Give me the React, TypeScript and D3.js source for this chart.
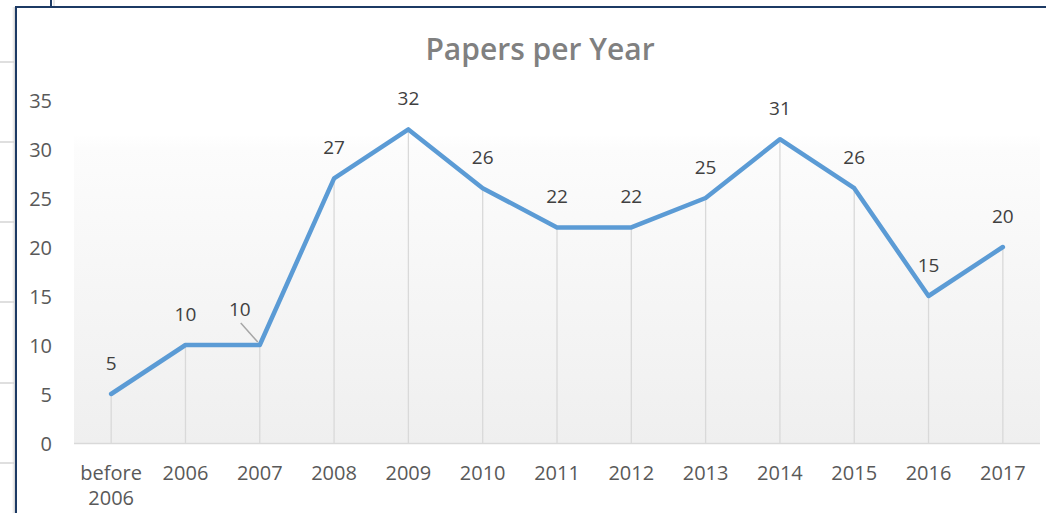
import React from "react";
import * as d3 from "d3";

const categories: string[] = ["before 2006", "2006", "2007", "2008", "2009", "2010", "2011", "2012", "2013", "2014", "2015", "2016", "2017"];
const papers: number[] = [5, 10, 10, 27, 32, 26, 22, 22, 25, 31, 26, 15, 20];
const yTicks: number[] = [0, 5, 10, 15, 20, 25, 30, 35];
const title = "Papers per Year";

const W = 1046;
const H = 513;
const plot = { left: 74, right: 1040, top: 100, bottom: 443 };
const FONT = "'Open Sans', sans-serif";

export default function App() {
  const x = d3.scaleBand<string>().domain(categories).range([plot.left, plot.right]).padding(0);
  const y = d3.scaleLinear().domain([0, 35]).range([plot.bottom, plot.top]);
  const cx = (c: string) => (x(c) as number) + x.bandwidth() / 2;

  const line = d3
    .line<number>()
    .x((_, i) => cx(categories[i]))
    .y((d) => y(d));

  const sheetRows = [62, 142, 222, 302, 383, 463];

  return (
    <svg
      width={W}
      height={H}
      style={{ position: "absolute", left: 0, top: 0, background: "#fff" }}
      fontFamily={FONT}
    >
      <defs>
        <linearGradient id="plotBg" x1="0" y1="0" x2="0" y2="1">
          <stop offset="0" stopColor="#ffffff" />
          <stop offset="0.1" stopColor="#ffffff" />
          <stop offset="0.14" stopColor="#fcfcfc" />
          <stop offset="1" stopColor="#efefef" />
        </linearGradient>
        <linearGradient id="shadow" x1="0" y1="0" x2="1" y2="0">
          <stop offset="0" stopColor="#ffffff" stopOpacity="0" />
          <stop offset="1" stopColor="#b8b8b8" stopOpacity="0.7" />
        </linearGradient>
      </defs>

      {/* spreadsheet background at the left */}
      {sheetRows.map((r) => (
        <line key={r} x1={0} x2={14} y1={r} y2={r} stroke="#d4d4d4" strokeWidth={1.5} />
      ))}
      <line x1={51} x2={51} y1={0} y2={7} stroke="#1c3a64" strokeWidth={2} />
      <line x1={54} x2={54} y1={0} y2={7} stroke="#d0d0d0" strokeWidth={1} />
      <rect x={11} y={7} width={4} height={H - 7} fill="url(#shadow)" />

      {/* chart frame */}
      <rect x={16} y={7} width={W} height={H} fill="#ffffff" stroke="#1c3a64" strokeWidth={2} />

      {/* plot area */}
      <rect
        x={plot.left}
        y={plot.top}
        width={plot.right - plot.left}
        height={plot.bottom - plot.top}
        fill="url(#plotBg)"
      />

      {/* title */}
      <text x={540} y={48} textAnchor="middle" dominantBaseline="central" fontSize={30} fontWeight={600} fill="#808080">
        {title}
      </text>

      {/* drop lines */}
      {papers.map((v, i) => (
        <line
          key={"drop" + i}
          x1={cx(categories[i])}
          x2={cx(categories[i])}
          y1={y(v)}
          y2={plot.bottom}
          stroke="#d9d9d9"
          strokeWidth={1.3}
        />
      ))}

      {/* baseline */}
      <line x1={plot.left} x2={plot.right} y1={plot.bottom + 0.5} y2={plot.bottom + 0.5} stroke="#d9d9d9" strokeWidth={1.5} />

      {/* y tick labels */}
      {yTicks.map((t) => (
        <text key={"yt" + t} x={52} y={y(t)} textAnchor="end" dominantBaseline="central" fontSize={20} fill="#595959">
          {t}
        </text>
      ))}

      {/* x labels */}
      {categories.map((c) => {
        const parts = c.split(" ");
        return (
          <text key={"xl" + c} x={cx(c)} y={472} textAnchor="middle" dominantBaseline="central" fontSize={20} fill="#595959">
            {parts.map((p, j) => (
              <tspan key={j} x={cx(c)} dy={j === 0 ? 0 : 25}>
                {p}
              </tspan>
            ))}
          </text>
        );
      })}

      {/* series line */}
      <path
        d={line(papers) || ""}
        fill="none"
        stroke="#5b9bd5"
        strokeWidth={4.5}
        strokeLinejoin="round"
        strokeLinecap="round"
      />

      {/* leader line for the moved 2007 label */}
      <line
        x1={cx(categories[2]) - 19}
        y1={y(papers[2]) - 22}
        x2={cx(categories[2]) - 2}
        y2={y(papers[2]) - 3}
        stroke="#a6a6a6"
        strokeWidth={1.5}
      />

      {/* data labels */}
      {papers.map((v, i) => {
        const moved = i === 2;
        return (
          <text
            key={"dl" + i}
            x={cx(categories[i]) + (moved ? -20 : 0)}
            y={y(v) - (moved ? 36 : 31)}
            textAnchor="middle"
            dominantBaseline="central"
            fontSize={19}
            fill="#404040"
          >
            {v}
          </text>
        );
      })}
    </svg>
  );
}
